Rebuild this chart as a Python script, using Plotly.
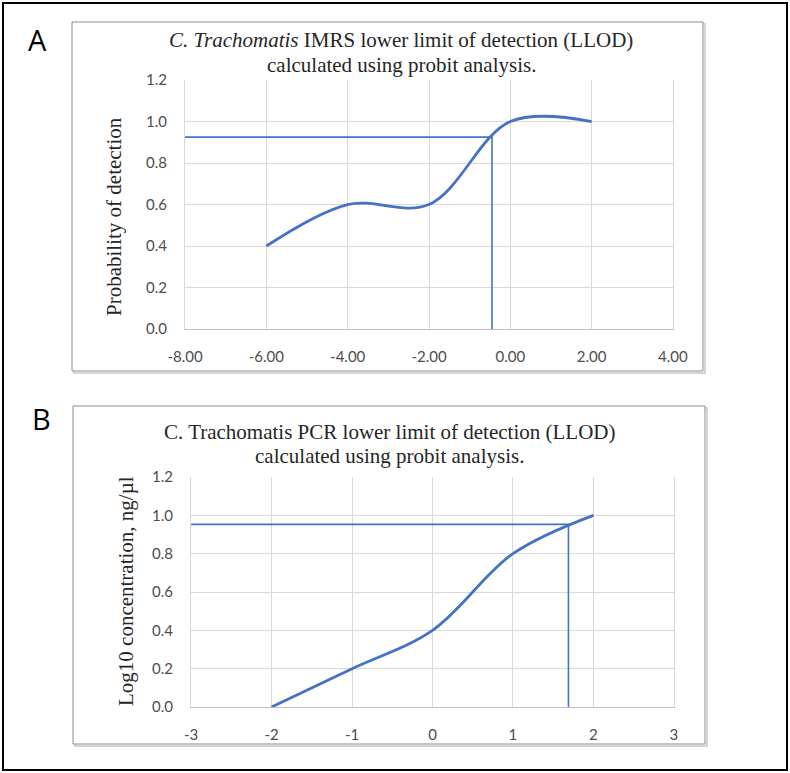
import plotly.graph_objects as go

W, H = 790, 773

# ---------------- data ----------------
a_x = [-6, -4, -2, 0, 2]
a_y = [0.40, 0.60, 0.60, 1.00, 1.00]
a_llod_x = -0.45
a_llod_p = 0.925
a_xticks = [-8, -6, -4, -2, 0, 2, 4]
a_xticklabels = ["-8.00", "-6.00", "-4.00", "-2.00", "0.00", "2.00", "4.00"]

b_x = [-2, -1, 0, 1, 2]
b_y = [0.0, 0.2, 0.4, 0.8, 1.0]
b_llod_x = 1.69
b_llod_p = 0.953
b_xticks = [-3, -2, -1, 0, 1, 2, 3]
b_xticklabels = ["-3", "-2", "-1", "0", "1", "2", "3"]

y_ticks = [0.0, 0.2, 0.4, 0.6, 0.8, 1.0, 1.2]
y_ticklabels = ["0.0", "0.2", "0.4", "0.6", "0.8", "1.0", "1.2"]

title_a1 = "<i>C. Trachomatis</i> IMRS lower limit of detection (LLOD)"
title_a2 = "calculated using probit analysis."
title_b1 = "C. Trachomatis PCR lower limit of detection (LLOD)"
title_b2 = "calculated using probit analysis."
ylab_a = "Probability of detection"
ylab_b = "Log10 concentration, ng/µl"

BLUE = "#4472C4"
GRID = "#D9D9D9"
TICKC = "#4D4D4D"
SERIF = "Liberation Serif, Times New Roman, serif"
SANS = "Lato, Carlito, Calibri, sans-serif"
EPS = 0.002


def px_x(x):
    return x / W


def px_y(y):
    return 1 - y / H


fig = go.Figure()

# Panel A traces
fig.add_trace(go.Scatter(x=a_x, y=a_y, mode="lines", line=dict(color=BLUE, width=2.8, shape="spline", smoothing=1.0),
                         xaxis="x", yaxis="y", showlegend=False, hoverinfo="skip"))
fig.add_trace(go.Scatter(x=[a_xticks[0], a_llod_x, a_llod_x], y=[a_llod_p, a_llod_p, 0], mode="lines",
                         line=dict(color=BLUE, width=1.6), xaxis="x", yaxis="y", showlegend=False, hoverinfo="skip"))
# Panel B traces
fig.add_trace(go.Scatter(x=b_x, y=b_y, mode="lines", line=dict(color=BLUE, width=2.8, shape="spline", smoothing=1.0),
                         xaxis="x2", yaxis="y2", showlegend=False, hoverinfo="skip"))
fig.add_trace(go.Scatter(x=[b_xticks[0], b_llod_x, b_llod_x], y=[b_llod_p, b_llod_p, 0], mode="lines",
                         line=dict(color=BLUE, width=1.6), xaxis="x2", yaxis="y2", showlegend=False, hoverinfo="skip"))

axis_common = dict(showgrid=True, gridcolor=GRID, gridwidth=1, zeroline=False, ticks="", automargin=False,
                   tickfont=dict(family=SANS, size=15, color=TICKC), tickmode="array", fixedrange=True,
                   ticklabelstandoff=14)
yaxis_extra = dict(showline=True, mirror=True, linecolor=GRID, linewidth=1)

fig.update_layout(
    template="none",
    width=W, height=H,
    margin=dict(l=0, r=0, t=0, b=0),
    paper_bgcolor="white", plot_bgcolor="white",
    xaxis=dict(domain=[px_x(185), px_x(673)], range=[a_xticks[0] - EPS, a_xticks[-1] + EPS], tickvals=a_xticks,
               ticktext=a_xticklabels, anchor="y", showline=True, linecolor="#BFBFBF", linewidth=1, **axis_common),
    yaxis=dict(domain=[px_y(329), px_y(80)], range=[0, 1.2 + EPS / 10], tickvals=y_ticks, ticktext=y_ticklabels,
               anchor="x", **yaxis_extra, **axis_common),
    xaxis2=dict(domain=[px_x(191), px_x(674)], range=[b_xticks[0] - EPS, b_xticks[-1] + EPS], tickvals=b_xticks,
                ticktext=b_xticklabels, anchor="y2", showline=True, linecolor="#BFBFBF", linewidth=1, **axis_common),
    yaxis2=dict(domain=[px_y(707), px_y(477)], range=[0, 1.2 + EPS / 10], tickvals=y_ticks, ticktext=y_ticklabels,
                anchor="x2", **yaxis_extra, **axis_common),
)

shapes = []
# outer border
shapes.append(dict(type="rect", xref="paper", yref="paper", x0=px_x(3), x1=px_x(787), y0=px_y(770), y1=px_y(3),
                   line=dict(color="black", width=2), layer="below"))
# panel boxes (with faint shadow)
for (x0, y0, x1, y1) in [(72, 22, 703, 371), (73, 406, 705, 744)]:
    shapes.append(dict(type="rect", xref="paper", yref="paper", x0=px_x(x0 + 2), x1=px_x(x1 + 2),
                       y0=px_y(y1 + 2), y1=px_y(y0 + 2), line=dict(color="#C8C8C8", width=1.5), layer="below"))
    shapes.append(dict(type="rect", xref="paper", yref="paper", x0=px_x(x0), x1=px_x(x1), y0=px_y(y1), y1=px_y(y0),
                       line=dict(color="#8C8C8C", width=1), fillcolor="white", layer="below"))
fig.update_layout(shapes=shapes)

ann = []


def text(x, y, s, size, family, color="#262626", angle=0):
    ann.append(dict(x=px_x(x), y=px_y(y), xref="paper", yref="paper", text=s, showarrow=False,
                    xanchor="center", yanchor="middle", textangle=angle,
                    font=dict(family=family, size=size, color=color)))


text(401, 40, title_a1, 21, SERIF)
text(401, 65, title_a2, 21, SERIF)
text(389, 432, title_b1, 21, SERIF)
text(389, 456, title_b2, 21, SERIF)
text(114, 217, ylab_a, 21, SERIF, angle=-90)
text(126, 591, ylab_b, 21, SERIF, angle=-90)
text(37, 39, "A", 29, "Open Sans, sans-serif", color="black")
text(41, 418, "B", 29, "Open Sans, sans-serif", color="black")
fig.update_layout(annotations=ann)

fig.write_html("out.html", config={"displayModeBar": False, "staticPlot": True},
               post_script="document.body.style.margin='0';document.body.style.overflow='hidden';")
